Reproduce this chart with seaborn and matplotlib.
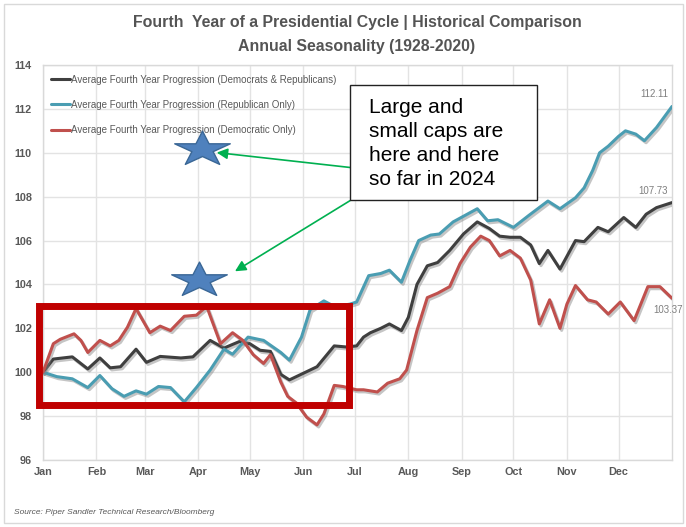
import numpy as np
import pandas as pd
import matplotlib
matplotlib.use("Agg")
import matplotlib.pyplot as plt
import matplotlib.patheffects as pe
from matplotlib.lines import Line2D
from matplotlib.patches import Rectangle
from matplotlib.path import Path
import seaborn as sns

# ---------------- data ----------------
month_labels = ["Jan", "Feb", "Mar", "Apr", "May", "Jun", "Jul", "Aug", "Sep", "Oct", "Nov", "Dec"]
month_days = [0, 31, 59, 90, 120, 151, 181, 212, 243, 273, 304, 334]
y_ticks = [96, 98, 100, 102, 104, 106, 108, 110, 112, 114]

series_names = [
    "Average Fourth Year Progression (Democrats & Republicans)",
    "Average Fourth Year Progression (Republican Only)",
    "Average Fourth Year Progression (Democratic Only)",
]

all_days = [0, 6, 17, 26, 33, 39, 45, 54, 60, 68, 80, 87, 97, 105, 114, 120, 126, 132, 138, 143,
            151, 159, 169, 176, 182, 186, 190, 196, 201, 208, 212, 217, 223, 229, 236, 244, 252, 259, 265, 271,
            277, 283, 288, 293, 300, 309, 314, 322, 328, 337, 344, 350, 356, 365]
all_vals = [100, 100.6, 100.7, 100.15, 100.65, 100.2, 100.25, 101.05, 100.45, 100.72,
            100.65, 100.7, 101.45, 101.1, 101.4, 101.3, 101.0, 100.95, 99.9, 99.65,
            99.95, 100.25, 101.2, 101.15, 101.2, 101.6, 101.8, 102.0, 102.2, 101.9,
            102.5, 104.0, 104.85, 105.0, 105.55, 106.3, 106.85, 106.55, 106.2, 106.15,
            106.15, 105.8, 104.95, 105.55, 104.7, 106.0, 105.95, 106.6, 106.4, 107.05,
            106.6, 107.2, 107.5, 107.73]

rep_days = [0, 8, 17, 26, 33, 40, 47, 54, 60, 67, 74, 82, 89, 97, 105, 110, 119, 128, 138, 143,
            150, 155, 163, 169, 178, 182, 189, 196, 201, 208, 213, 218, 225, 230, 238, 245, 252, 258, 264, 273,
            282, 293, 300, 309, 314, 319, 323, 328, 334, 338, 344, 349, 356, 365]
rep_vals = [100, 99.8, 99.7, 99.3, 99.85, 99.25, 98.9, 99.15, 99.0, 99.35,
            99.3, 98.65, 99.3, 100.1, 101.05, 100.82, 101.6, 101.45, 100.9, 100.55,
            101.6, 102.85, 103.25, 103.0, 103.1, 103.2, 104.4, 104.5, 104.65, 104.1,
            105.1, 106.0, 106.25, 106.3, 106.85, 107.15, 107.45, 106.9, 106.95, 106.6,
            107.15, 107.8, 107.45, 107.95, 108.4, 109.2, 110.0, 110.3, 110.75, 111.0,
            110.85, 110.55, 111.15, 112.11]

dem_days = [0, 6, 10, 18, 22, 26, 33, 39, 44, 49, 54, 62, 68, 74, 82, 89, 95, 103, 110, 116,
            122, 128, 132, 138, 142, 147, 153, 159, 163, 169, 174, 182, 186, 194, 200, 207, 211, 217, 223, 229,
            236, 242, 248, 254, 259, 265, 271, 277, 283, 288, 294, 300, 304, 309, 316, 321, 328, 335, 343, 351,
            358, 365]
dem_vals = [100, 101.3, 101.5, 101.75, 101.45, 100.9, 101.45, 101.2, 101.45, 102.05,
            102.9, 101.8, 102.1, 101.9, 102.55, 102.6, 103.0, 101.3, 101.8, 101.45,
            100.8, 100.4, 100.8, 99.55, 98.9, 98.6, 97.95, 97.6, 98.1, 99.4,
            99.35, 99.2, 99.2, 99.1, 99.5, 99.7, 100.1, 101.9, 103.4, 103.6,
            103.9, 104.95, 105.7, 106.2, 106.0, 105.3, 105.55, 105.2, 104.2, 102.2,
            103.3, 102.0, 103.1, 103.95, 103.3, 103.2, 102.65, 103.2, 102.35, 103.9,
            103.9, 103.37]

end_labels = ["107.73", "112.11", "103.37"]

star_days = [92, 90.5]
star_vals = [110.15, 104.18]

box_text = "Large and\nsmall caps are\nhere and here\nso far in 2024"
source_text = "Source: Piper Sandler Technical Research/Bloomberg"
title1 = "Fourth  Year of a Presidential Cycle | Historical Comparison"
title2 = "Annual Seasonality (1928-2020)"

colors = ["#3f3f3f", "#4a9db2", "#c0504d"]

# ---------------- build frame ----------------
df = pd.concat([
    pd.DataFrame({"day": all_days, "value": all_vals, "series": series_names[0]}),
    pd.DataFrame({"day": rep_days, "value": rep_vals, "series": series_names[1]}),
    pd.DataFrame({"day": dem_days, "value": dem_vals, "series": series_names[2]}),
], ignore_index=True)

sns.set_style("white")
plt.rcParams["font.family"] = ["Liberation Sans", "DejaVu Sans"]

W, H = 686, 527
fig = plt.figure(figsize=(W / 100, H / 100), dpi=100)
ax = fig.add_axes([43 / W, 1 - 460 / H, (672 - 43) / W, (460 - 65) / H])

sns.lineplot(data=df, x="day", y="value", hue="series", hue_order=series_names,
             palette=colors, linewidth=2.2, estimator=None, legend=False, ax=ax)
for ln in ax.lines:
    ln.set_path_effects([pe.SimpleLineShadow(offset=(1.2, -1.5), shadow_color="#808080", alpha=0.45),
                         pe.Normal()])
    ln.set_zorder(3)
    ln.set_solid_capstyle("round")
    ln.set_solid_joinstyle("round")

ax.set_xlim(0, 365)
ax.set_ylim(96, 114)
ax.set_xticks(month_days)
ax.set_xticklabels(month_labels)
ax.set_yticks(y_ticks)
ax.set_yticklabels([str(t) for t in y_ticks])
ax.tick_params(axis="both", length=0, labelsize=7.8, labelcolor="#595959")
ax.tick_params(axis="y", pad=8)
ax.tick_params(axis="x", pad=5)
for lab in ax.get_xticklabels() + ax.get_yticklabels():
    lab.set_fontweight("bold")
ax.set_xlabel("")
ax.set_ylabel("")
ax.grid(True, color="#e3e3e3", linewidth=1.0)
ax.set_axisbelow(True)
for sp in ax.spines.values():
    sp.set_color("#d9d9d9")
    sp.set_linewidth(1.0)

# legend
handles = [Line2D([0], [0], color=c, linewidth=2.2) for c in colors]
leg = ax.legend(handles, series_names, loc="upper left", bbox_to_anchor=(0.006, 0.985),
                frameon=False, fontsize=7, handlelength=2.0, handletextpad=0.05,
                labelspacing=1.55, borderaxespad=0)
for t in leg.get_texts():
    t.set_color("#595959")

# end value labels
last_vals = [all_vals[-1], rep_vals[-1], dem_vals[-1]]
offsets = [(-4, 12), (-4, 12), (-4, -12)]
has = ["right", "right", "center"]
for v, lab, off, ha in zip(last_vals, end_labels, offsets, has):
    ax.annotate(lab, xy=(365, v), xytext=off, textcoords="offset pixels",
                ha=ha, va="center", fontsize=7, color="#7f7f7f", annotation_clip=False)

# stars
t = np.linspace(0, 2 * np.pi, 11)[:-1] + np.pi / 2
r = np.where(np.arange(10) % 2 == 0, 1.0, 0.382)
verts = np.column_stack([r * np.cos(t), 0.63 * r * np.sin(t)])
verts = np.vstack([verts, verts[:1]])
star_path = Path(verts, [Path.MOVETO] + [Path.LINETO] * 9 + [Path.CLOSEPOLY])
ax.plot(star_days, star_vals, linestyle="none", marker=star_path, markersize=40,
        markerfacecolor="#4f81bd", markeredgecolor="#3a6796", markeredgewidth=1.0,
        zorder=6, clip_on=False)

# red highlight rectangle
ax.add_patch(Rectangle((-2.3, 98.5), 179.6, 4.53, fill=False, edgecolor="#c00000",
                       linewidth=5, zorder=5, clip_on=False))

# green arrows
ax.annotate("", xy=(100.8, 110.01), xytext=(178.2, 109.33),
            arrowprops=dict(arrowstyle="-|>", color="#00b050", lw=1.2, mutation_scale=16,
                            shrinkA=0, shrinkB=0), zorder=7, annotation_clip=False)
ax.annotate("", xy=(111.4, 104.6), xytext=(178.2, 107.82),
            arrowprops=dict(arrowstyle="-|>", color="#00b050", lw=1.2, mutation_scale=16,
                            shrinkA=0, shrinkB=0), zorder=7, annotation_clip=False)

# text box
fig.patches.append(Rectangle((350 / W, 1 - 200 / H), 187 / W, 115 / H, transform=fig.transFigure,
                             facecolor="white", edgecolor="#222222", linewidth=1.0, zorder=8))
fig.text(369 / W, 1 - 98 / H, box_text, fontsize=15, color="black", ha="left", va="top",
         linespacing=1.33, zorder=9)

# titles and source
fig.text(357 / W, 1 - 23 / H, title1, fontsize=11.4, fontweight="bold", color="#545454",
         ha="center", va="center")
fig.text(357 / W, 1 - 47 / H, title2, fontsize=11.4, fontweight="bold", color="#545454",
         ha="center", va="center")
fig.text(14 / W, 1 - 512 / H, source_text, fontsize=6, style="italic", color="#595959",
         ha="left", va="center")

# outer frame
fig.patches.append(Rectangle((4 / W, 4 / H), 679 / W, 519 / H, transform=fig.transFigure,
                             fill=False, edgecolor="#d9d9d9", linewidth=1.0, zorder=0))

fig.savefig("out.png", dpi=100)
